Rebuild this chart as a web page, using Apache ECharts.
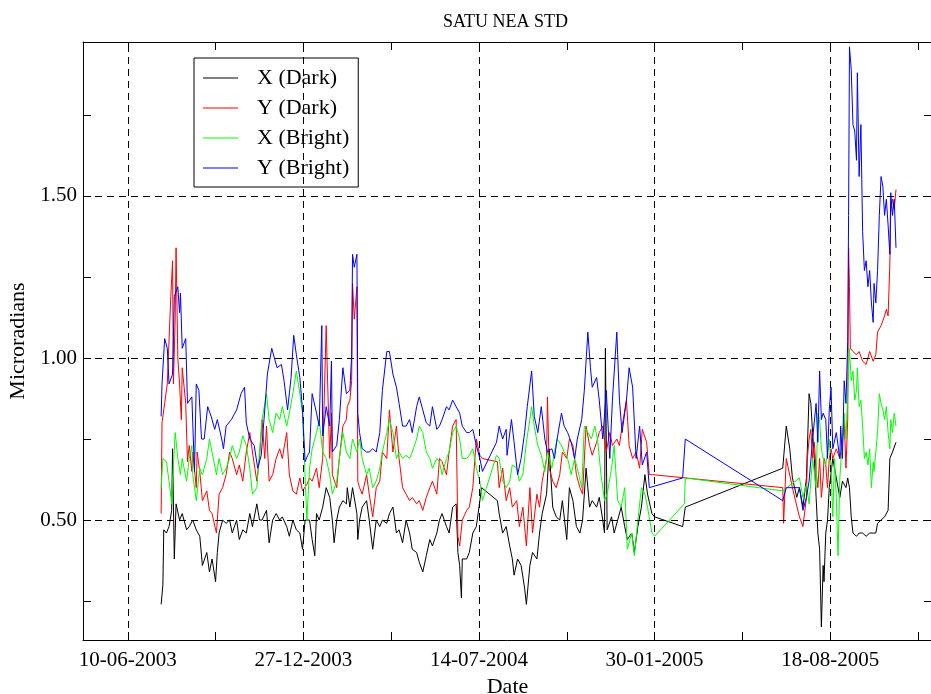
<!DOCTYPE html>
<html><head><meta charset="utf-8">
<script src="https://cdn.jsdelivr.net/npm/echarts@6/dist/echarts.min.js"></script>
<style>html,body{margin:0;padding:0;background:#fff}#c{width:931px;height:694px}</style>
</head><body><div id="c"></div>
<script>
// ---- data (day offset from 10-06-2003, value in microradians) ----
const originDate = '10-06-2003';
const axisMinDate = '20-04-2003';
const axisMaxDate = '12-12-2005';
const xTickLabels = ['10-06-2003','27-12-2003','14-07-2004','30-01-2005','18-08-2005'];
const xMinorTickLabels = ['18-09-2003','05-04-2004','22-10-2004','10-05-2005','26-11-2005'];
const yTickLabels = ['0.50','1.00','1.50'];
const yMinorTicks = [0.25,0.75,1.25,1.75];
const yRange = [0.13, 1.975];
const seriesNames = ['X (Dark)','Y (Dark)','X (Bright)','Y (Bright)'];
const seriesColors = ['#000000','#ff0000','#00ff00','#0000ff'];

const xDark = [[38,0.24],[40,0.30],[41,0.47],[44,0.46],[47,0.48],[50,0.53],[51,0.72],[53,0.38],[55,0.55],[59,0.50],[62,0.52],[67,0.47],[70,0.48],[74,0.50],[78,0.47],[82,0.45],[85,0.36],[90,0.40],[93,0.34],[96,0.38],[100,0.31],[102,0.40],[104,0.46],[108,0.50],[112,0.49],[116,0.50],[119,0.46],[124,0.50],[127,0.44],[131,0.47],[135,0.46],[139,0.52],[142,0.48],[147,0.55],[150,0.50],[153,0.50],[158,0.53],[161,0.43],[165,0.50],[169,0.52],[173,0.50],[176,0.51],[181,0.48],[184,0.45],[188,0.50],[192,0.47],[196,0.46],[199,0.41],[202,0.50],[207,0.50],[210,0.44],[213,0.39],[215,0.52],[218,0.50],[222,0.54],[226,0.60],[230,0.57],[233,0.50],[235,0.43],[238,0.50],[241,0.54],[245,0.56],[249,0.55],[250,0.60],[253,0.54],[256,0.60],[261,0.52],[262,0.44],[264,0.50],[267,0.54],[272,0.56],[275,0.50],[279,0.41],[283,0.50],[287,0.48],[290,0.50],[295,0.49],[298,0.52],[302,0.54],[306,0.46],[309,0.47],[313,0.43],[317,0.50],[321,0.46],[324,0.41],[329,0.40],[332,0.37],[336,0.34],[340,0.39],[344,0.44],[347,0.42],[352,0.46],[355,0.50],[358,0.52],[363,0.48],[366,0.46],[370,0.54],[374,0.55],[376,0.40],[378,0.36],[380,0.26],[381,0.38],[386,0.38],[389,0.40],[393,0.46],[397,0.48],[401,0.56],[403,0.60],[421,0.56],[423,0.52],[427,0.46],[431,0.48],[435,0.42],[438,0.38],[440,0.33],[444,0.38],[448,0.36],[452,0.29],[454,0.24],[458,0.36],[461,0.40],[466,0.38],[469,0.46],[472,0.52],[477,0.58],[480,0.72],[484,0.54],[488,0.51],[492,0.50],[495,0.56],[500,0.44],[503,0.60],[507,0.56],[511,0.48],[515,0.46],[518,0.50],[522,0.66],[526,0.54],[529,0.56],[534,0.54],[537,0.57],[541,0.50],[543,0.46],[544,1.03],[546,0.47],[551,0.51],[554,0.46],[558,0.50],[562,0.54],[566,0.48],[569,0.44],[574,0.46],[577,0.40],[581,0.48],[585,0.54],[589,0.64],[592,0.58],[597,0.52],[600,0.51],[632,0.48],[635,0.54],[746,0.66],[750,0.79],[754,0.72],[757,0.63],[762,0.57],[765,0.60],[769,0.54],[773,0.63],[776,0.89],[778,0.86],[780,0.77],[782,0.69],[784,0.57],[786,0.46],[788,0.41],[790,0.17],[792,0.36],[793,0.31],[795,0.46],[797,0.50],[799,0.60],[803,0.69],[807,0.63],[811,0.57],[814,0.62],[818,0.60],[820,0.63],[822,0.60],[824,0.51],[826,0.46],[830,0.45],[833,0.46],[837,0.46],[841,0.45],[845,0.46],[849,0.46],[852,0.46],[854,0.49],[858,0.50],[862,0.51],[866,0.53],[868,0.69],[871,0.71],[875,0.74]];

const yDark = [[38,0.52],[39,0.80],[42,0.86],[45,0.92],[49,1.19],[51,1.30],[52,0.92],[54,1.12],[55,1.34],[57,1.00],[59,0.92],[61,0.81],[62,0.97],[66,0.86],[68,0.68],[70,0.73],[73,0.65],[74,0.71],[78,0.60],[79,0.71],[82,0.65],[85,0.56],[90,0.59],[93,0.53],[96,0.52],[101,0.46],[102,0.50],[104,0.58],[108,0.60],[112,0.64],[116,0.71],[119,0.69],[124,0.64],[127,0.67],[131,0.62],[135,0.71],[139,0.77],[142,0.71],[147,0.62],[150,0.69],[153,0.81],[156,0.69],[158,0.79],[161,0.62],[165,0.64],[169,0.69],[173,0.72],[176,0.69],[181,0.77],[184,0.64],[188,0.59],[192,0.58],[196,0.63],[199,0.59],[204,0.61],[207,0.63],[210,0.62],[215,0.66],[218,0.60],[222,0.69],[226,1.10],[227,0.99],[230,0.69],[232,0.83],[233,0.64],[238,0.60],[241,0.69],[245,0.79],[249,0.81],[250,0.85],[253,0.87],[255,0.93],[256,1.23],[258,1.12],[261,1.22],[262,0.62],[264,0.60],[267,0.58],[272,0.64],[275,0.58],[279,0.51],[283,0.60],[287,0.62],[290,0.71],[295,0.69],[298,0.84],[302,0.71],[306,0.79],[309,0.69],[313,0.60],[317,0.58],[321,0.56],[324,0.57],[329,0.55],[332,0.56],[336,0.53],[340,0.57],[344,0.60],[347,0.62],[352,0.58],[355,0.69],[358,0.68],[363,0.64],[366,0.71],[370,0.79],[374,0.81],[376,0.45],[378,0.42],[381,0.50],[386,0.53],[389,0.54],[393,0.60],[397,0.75],[401,0.70],[404,0.69],[421,0.68],[423,0.60],[427,0.66],[431,0.56],[435,0.60],[438,0.54],[443,0.56],[446,0.48],[450,0.54],[454,0.42],[458,0.60],[461,0.46],[466,0.58],[469,0.54],[472,0.62],[477,0.69],[478,0.88],[480,0.66],[484,0.62],[488,0.60],[492,0.64],[495,0.71],[500,0.69],[503,0.75],[507,0.73],[511,0.64],[515,0.60],[518,0.58],[522,0.79],[526,0.73],[529,0.70],[534,0.74],[537,0.77],[541,0.79],[545,0.71],[549,0.77],[552,0.73],[557,0.75],[560,0.73],[563,0.79],[568,0.87],[571,0.73],[575,0.69],[579,0.71],[583,0.66],[586,0.78],[591,0.74],[594,0.64],[598,0.64],[746,0.60],[747,0.49],[750,0.69],[757,0.60],[765,0.51],[769,0.48],[773,0.57],[774,0.69],[776,0.75],[778,0.78],[780,0.69],[782,0.74],[784,0.65],[786,0.60],[788,0.69],[790,0.57],[792,0.63],[793,0.69],[795,0.67],[797,0.60],[799,0.69],[801,0.72],[803,0.69],[807,0.72],[811,0.69],[814,0.74],[816,0.81],[818,0.66],[820,0.81],[821,1.34],[822,1.22],[823,1.03],[826,1.02],[830,1.01],[833,1.02],[837,0.99],[841,0.98],[845,1.02],[849,0.99],[852,1.01],[854,1.08],[858,1.10],[862,1.13],[864,1.15],[866,1.13],[868,1.29],[869,1.45],[871,1.49],[873,1.46],[875,1.52]];

const xBright = [[38,0.60],[40,0.69],[44,0.68],[47,0.62],[50,0.55],[51,0.62],[54,0.77],[57,0.69],[60,0.64],[62,0.69],[67,0.62],[70,0.69],[73,0.73],[74,0.64],[78,0.56],[82,0.66],[85,0.64],[90,0.69],[93,0.75],[96,0.71],[101,0.64],[104,0.69],[108,0.64],[112,0.66],[116,0.69],[119,0.73],[124,0.69],[127,0.71],[131,0.76],[135,0.73],[139,0.66],[142,0.58],[147,0.60],[150,0.71],[153,0.81],[158,0.89],[161,0.81],[165,0.77],[169,0.83],[173,0.81],[176,0.85],[181,0.79],[184,0.83],[188,0.89],[192,0.96],[196,0.89],[199,0.83],[204,0.50],[207,0.66],[210,0.72],[215,0.77],[218,0.81],[222,0.71],[226,0.69],[230,0.64],[233,0.58],[238,0.62],[241,0.69],[245,0.77],[249,0.71],[253,0.69],[256,0.75],[261,0.71],[264,0.75],[267,0.69],[272,0.64],[275,0.66],[279,0.60],[283,0.62],[287,0.66],[290,0.71],[295,0.77],[298,0.81],[302,0.77],[306,0.69],[309,0.71],[313,0.69],[317,0.70],[321,0.69],[324,0.71],[329,0.75],[332,0.79],[336,0.77],[340,0.71],[344,0.69],[347,0.66],[352,0.69],[355,0.68],[358,0.64],[363,0.69],[366,0.71],[370,0.77],[374,0.79],[378,0.75],[381,0.69],[386,0.69],[389,0.70],[393,0.72],[397,0.66],[401,0.62],[404,0.56],[420,0.70],[423,0.69],[427,0.62],[431,0.60],[435,0.62],[438,0.67],[443,0.66],[446,0.62],[450,0.64],[454,0.74],[458,0.81],[460,0.85],[463,0.79],[467,0.73],[471,0.70],[475,0.65],[478,0.71],[483,0.66],[486,0.71],[489,0.75],[494,0.73],[497,0.71],[501,0.69],[505,0.64],[509,0.69],[512,0.66],[517,0.60],[520,0.79],[524,0.77],[528,0.75],[532,0.79],[535,0.75],[539,0.64],[543,0.56],[546,0.58],[551,0.66],[554,0.73],[558,0.56],[562,0.54],[566,0.60],[569,0.41],[574,0.46],[577,0.39],[581,0.50],[585,0.60],[589,0.58],[592,0.54],[597,0.46],[600,0.45],[634,0.55],[635,0.63],[746,0.59],[765,0.63],[769,0.57],[773,0.61],[776,0.55],[780,0.69],[784,0.60],[786,0.83],[788,0.81],[790,0.72],[792,0.69],[795,0.67],[799,0.75],[801,0.66],[803,0.51],[805,0.69],[807,0.57],[809,0.39],[811,0.63],[814,0.75],[816,0.83],[818,0.75],[820,0.89],[822,1.03],[824,0.93],[826,0.96],[828,0.87],[830,0.90],[831,0.97],[833,0.85],[835,0.87],[837,0.79],[839,0.69],[841,0.71],[843,0.67],[845,0.72],[847,0.60],[849,0.68],[850,0.65],[852,0.71],[854,0.77],[856,0.89],[858,0.86],[860,0.84],[862,0.81],[864,0.85],[866,0.77],[868,0.72],[869,0.81],[871,0.77],[873,0.83],[875,0.79]];

const yBright = [[38,0.82],[39,0.92],[42,1.06],[45,1.03],[47,0.92],[51,0.95],[53,1.19],[57,1.22],[59,1.14],[60,1.20],[62,1.03],[66,1.06],[68,0.86],[73,0.88],[74,0.80],[76,0.65],[78,0.92],[81,0.90],[84,0.75],[87,0.75],[91,0.85],[95,0.82],[99,0.78],[102,0.81],[107,0.75],[109,0.72],[112,0.79],[118,0.81],[124,0.84],[129,0.89],[133,0.91],[135,0.80],[139,0.75],[144,0.73],[148,0.66],[152,0.70],[156,0.84],[159,0.95],[164,1.03],[167,1.00],[170,0.97],[175,0.98],[178,0.93],[182,0.84],[186,0.94],[189,1.07],[192,1.01],[196,0.94],[199,0.84],[202,0.68],[205,0.70],[207,0.71],[210,0.89],[215,0.83],[218,0.79],[221,1.10],[222,0.76],[226,0.85],[230,0.79],[232,0.99],[233,0.71],[238,0.73],[241,0.81],[245,0.97],[249,0.89],[253,0.90],[255,1.01],[256,1.32],[258,1.28],[261,1.32],[262,0.83],[264,0.77],[267,0.72],[272,0.71],[275,0.71],[279,0.72],[283,0.71],[287,0.77],[290,0.90],[295,1.02],[298,1.02],[302,0.95],[306,0.91],[309,0.86],[313,0.79],[317,0.79],[321,0.81],[324,0.77],[329,0.85],[332,0.88],[336,0.84],[340,0.80],[344,0.79],[347,0.85],[352,0.78],[355,0.79],[358,0.81],[363,0.85],[366,0.84],[370,0.87],[374,0.85],[378,0.83],[381,0.79],[386,0.77],[389,0.77],[393,0.78],[397,0.73],[401,0.69],[404,0.65],[420,0.74],[423,0.79],[427,0.75],[431,0.78],[432,0.70],[437,0.81],[440,0.74],[444,0.64],[448,0.69],[452,0.77],[455,0.85],[460,0.96],[463,0.82],[467,0.77],[471,0.85],[475,0.75],[478,0.71],[483,0.72],[486,0.69],[489,0.75],[494,0.83],[497,0.79],[501,0.77],[505,0.74],[509,0.69],[512,0.75],[517,0.81],[520,0.90],[524,1.08],[527,0.97],[529,0.91],[534,0.94],[537,0.87],[541,0.75],[545,0.90],[549,0.69],[552,0.87],[557,1.08],[558,1.01],[560,0.87],[563,0.77],[568,0.87],[571,0.97],[575,0.91],[579,0.69],[583,0.79],[586,0.67],[591,0.71],[594,0.60],[632,0.63],[635,0.75],[746,0.56],[750,0.60],[765,0.60],[769,0.53],[773,0.57],[776,0.62],[780,0.75],[784,0.86],[786,0.74],[788,0.96],[790,0.81],[792,0.83],[795,0.81],[797,0.69],[799,0.84],[801,0.91],[803,0.72],[807,0.77],[811,0.69],[812,0.79],[814,0.69],[816,0.93],[818,0.86],[820,1.05],[821,1.44],[822,1.96],[824,1.89],[826,1.72],[828,1.70],[830,1.61],[831,1.88],[833,1.56],[835,1.72],[837,1.39],[839,1.27],[841,1.30],[843,1.22],[845,1.27],[847,1.17],[849,1.11],[850,1.23],[852,1.17],[854,1.27],[856,1.44],[858,1.56],[860,1.53],[862,1.44],[864,1.49],[866,1.41],[868,1.32],[869,1.51],[871,1.44],[873,1.49],[875,1.34]];

// ---- helpers ----
const DAY = 86400000;
function parseDMY(s){ const p = s.split('-').map(Number); return Date.UTC(p[2], p[1]-1, p[0]); }
function pad(n){ return (n<10?'0':'')+n; }
const origin = parseDMY(originDate);
function toDay(s){ return Math.round((parseDMY(s) - origin) / DAY); }
function fmtDay(v){ const d = new Date(origin + Math.round(v)*DAY); return pad(d.getUTCDate())+'-'+pad(d.getUTCMonth()+1)+'-'+d.getUTCFullYear(); }

const xMajor = xTickLabels.map(toDay);
const xAll = xMajor.concat(xMinorTickLabels.map(toDay)).sort((a,b)=>a-b);
const xMin = toDay(axisMinDate), xMax = toDay(axisMaxDate);
const yMajor = yTickLabels.map(Number);
const yAll = yMajor.concat(yMinorTicks).sort((a,b)=>a-b);
const FONT = '"Liberation Serif", "Times New Roman", serif';
const AX = {color:'#000', width:1};

const chart = echarts.init(document.getElementById('c'));
const allData = [xDark, yDark, xBright, yBright];

const option = {
  animation: false,
  backgroundColor: '#fff',
  title: {text: 'SATU NEA STD', left: 438, top: 8,
    textStyle: {fontFamily: FONT, fontSize: 18, fontWeight: 'normal', color: '#000'}},
  legend: {
    orient: 'vertical', left: 194, top: 58, padding: [9, 9, 8, 9],
    borderColor: '#000', borderWidth: 1, itemWidth: 35, itemHeight: 1, itemGap: 8,
    icon: 'rect',
    data: seriesNames,
    textStyle: {fontFamily: FONT, fontSize: 22, color: '#000', lineHeight: 22, padding: [0, 0, 0, 14]}
  },
  grid: {left: 83, top: 42, width: 849, height: 598, containLabel: false, outerBoundsMode: 'none'},
  xAxis: [
    {type: 'value', min: xMin, max: xMax, position: 'bottom',
     name: 'Date', nameLocation: 'middle', nameGap: 32,
     nameTextStyle: {fontFamily: FONT, fontSize: 22, color: '#000'},
     axisLine: {onZero: false, lineStyle: AX},
     axisTick: {inside: true, length: 8, customValues: xAll, lineStyle: AX},
     axisLabel: {customValues: xMajor, formatter: v => fmtDay(v), margin: 10,
       fontFamily: FONT, fontSize: 21, color: '#000'},
     splitLine: {show: false}},
    {type: 'value', min: xMin, max: xMax, position: 'top',
     axisLine: {onZero: false, lineStyle: AX},
     axisTick: {inside: true, length: 8, customValues: xAll, lineStyle: AX},
     axisLabel: {show: false}, splitLine: {show: false}}
  ],
  yAxis: [
    {type: 'value', min: yRange[0], max: yRange[1], position: 'left',
     name: 'Microradians', nameLocation: 'middle', nameGap: 50,
     nameTextStyle: {fontFamily: FONT, fontSize: 22, color: '#000'},
     axisLine: {show: true, onZero: false, lineStyle: AX},
     axisTick: {show: true, inside: true, length: 8, customValues: yAll, lineStyle: AX},
     axisLabel: {customValues: yMajor, formatter: v => v.toFixed(2), margin: 6,
       fontFamily: FONT, fontSize: 21, color: '#000'},
     splitLine: {show: false}},
    {type: 'value', min: yRange[0], max: yRange[1], position: 'right',
     axisLine: {show: true, onZero: false, lineStyle: AX},
     axisTick: {show: true, inside: true, length: 8, customValues: yAll, lineStyle: AX},
     axisLabel: {show: false}, splitLine: {show: false}}
  ],
  series: [
    {type: 'line', name: '_grid', data: [], silent: true, z: 1,
     markLine: {silent: true, symbol: ['none', 'none'], animation: false,
       label: {show: false}, emphasis: {disabled: true},
       lineStyle: {type: [7, 5], color: '#000', width: 1},
       data: xMajor.map(t => ({xAxis: t})).concat(yMajor.map(v => ({yAxis: v})))}}
  ].concat(seriesNames.map((n, i) => ({
    type: 'line', name: n, data: allData[i], symbol: 'none', showSymbol: false,
    z: 2 + i, lineStyle: {color: seriesColors[i], width: 1}, itemStyle: {color: seriesColors[i]},
    emphasis: {disabled: true}
  })))
};
chart.setOption(option);
</script></body></html>
